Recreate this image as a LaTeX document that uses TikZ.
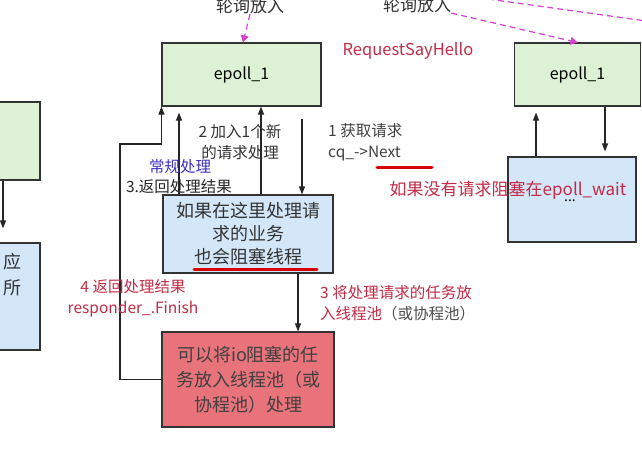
\documentclass[tikz,border=0pt]{standalone}
\usepackage{fontspec}
\setmainfont{Noto Sans CJK SC}
\usetikzlibrary{arrows.meta}

\definecolor{epollgreen}{HTML}{DDF1D4}
\definecolor{workblue}{HTML}{D4E7F8}
\definecolor{poolred}{HTML}{E8737B}
\definecolor{notered}{HTML}{C22A45}
\definecolor{noteblue}{HTML}{3B2FC4}
\definecolor{pollpink}{HTML}{D23FD2}

\tikzset{
  box/.style={draw=black!80, line width=1.1pt, inner sep=0pt, align=center},
  arr/.style={-{Triangle[length=8pt,width=6pt]}, line width=1.1pt, black!85},
  pollarr/.style={-{Triangle[length=7pt,width=8pt]}, dashed, dash pattern=on 6pt off 4pt, line width=1.2pt, pollpink},
  txt/.style={font=\fontsize{15.5}{21}\selectfont, inner sep=0pt},
  boxtxt/.style={font=\fontsize{18}{23}\selectfont}
}

\begin{document}
\begin{tikzpicture}[x=1pt,y=-1pt]
\useasboundingbox (0,0) rectangle (642,463);
\clip (0,0) rectangle (642,463);

% left, cut off
\node [box, fill=epollgreen, minimum width=60pt, minimum height=78pt] (leftG) at (10,141) {};
\node [box, fill=workblue, minimum width=60pt, minimum height=107pt] (leftB) at (10,296.5) {};
\node [txt, boxtxt, anchor=east, text=black!80] (leftT1) at (22,262) {应};
\node [txt, boxtxt, anchor=east, text=black!80] (leftT2) at (22,288) {所};
\draw [arr, shorten >=14pt] ([xshift=-7pt]leftG.south) -- ([xshift=-7pt]leftB.north);

% middle
\node [box, fill=epollgreen, minimum width=159pt, minimum height=63pt, font=\fontsize{16}{19}\selectfont] (epollA) at (241.5,74.5) {epoll\_1};
\node [box, fill=workblue, minimum width=170pt, minimum height=78pt, boxtxt, text=black!80] (procA) at (248,234) {如果在这里处理请\\求的业务\\也会阻塞线程};
\node [box, fill=poolred, minimum width=172pt, minimum height=95pt, boxtxt, text=black!75, font=\fontsize{18}{25}\selectfont] (poolA) at (248,379.5) {可以将io阻塞的任\\务放入线程池（或\\协程池）处理};
\node [txt, font=\fontsize{17}{20}\selectfont, black!80] (pollA) at (250,6) {轮询放入};
\draw [pollarr] (pollA.south) -- ([xshift=1.5pt]epollA.north);

\draw [arr, shorten <=12pt] ([xshift=60.5pt]epollA.south) -- ([xshift=60.5pt]epollA.south |- procA.north);
\draw [arr] ([xshift=13pt]procA.north) -- ([xshift=13pt]procA.north |- epollA.south);
\draw [arr, shorten >=6pt] ([xshift=-69pt]procA.north) -- ([xshift=-69pt]procA.north |- epollA.south);
\draw [arr] ([xshift=50pt]procA.south) -- ([xshift=50pt]procA.south |- poolA.north);
\coordinate (retA) at (120,144);
\draw [arr] (poolA.west) -| (retA) -| (epollA.south west);

\node [txt, align=center, black!80] (addA) at (240,142) {2 加入1个新\\的请求处理};
\node [txt, noteblue] (normA) at (180,167) {常规处理};
\node [txt, black!85] (backA) at (179,187) {3.返回处理结果};
\node [txt, align=left, anchor=west, black!75] (getA) at (328,142) {1 获取请求\\cq\_->Next};
\node [txt, align=center, notered] (finA) at (133,298) {4 返回处理结果\\responder\_.Finish};
\node [txt, align=left, anchor=west, notered] (poolT) at (320,303) {3 将处理请求的任务放\\入线程池\textcolor{black!70}{（或协程池）}};
\node [txt, font=\fontsize{16.5}{20}\selectfont, notered] (sayA) at (408,51) {RequestSayHello};

\draw [line width=3pt, red!85!black, line cap=round] (377,167) -- (432,167);
\draw [line width=3pt, red!85!black, line cap=round] (194,269) -- (317,269);

% right
\node [box, fill=epollgreen, minimum width=126pt, minimum height=63pt, font=\fontsize{16}{19}\selectfont] (epollB) at (577.5,74.5) {epoll\_1};
\node [box, fill=workblue, minimum width=128pt, minimum height=85pt] (waitB) at (572,199.5) {};
\node [txt, font=\fontsize{14}{16}\selectfont] (dotsB) at (570,201) {...};
\node [txt, font=\fontsize{17}{20}\selectfont, black!80] (pollB) at (417,5) {轮询放入};
\draw [pollarr] (pollB.south east) -- (epollB.north);
\coordinate (pollS) at (488,-1);
\coordinate (pollE) at (646,21);
\draw [pollarr, -] (pollS) -- (pollE);
\draw [arr, shorten >=6pt] ([xshift=-36pt]waitB.north) -- ([xshift=-36pt]waitB.north |- epollB.south);
\draw [arr, shorten >=5pt] ([xshift=27.5pt]epollB.south) -- ([xshift=27.5pt]epollB.south |- waitB.north);
\node [txt, font=\fontsize{17}{20}\selectfont, notered] (waitT) at (508,190) {如果没有请求阻塞在epoll\_wait};
\end{tikzpicture}
\end{document}
